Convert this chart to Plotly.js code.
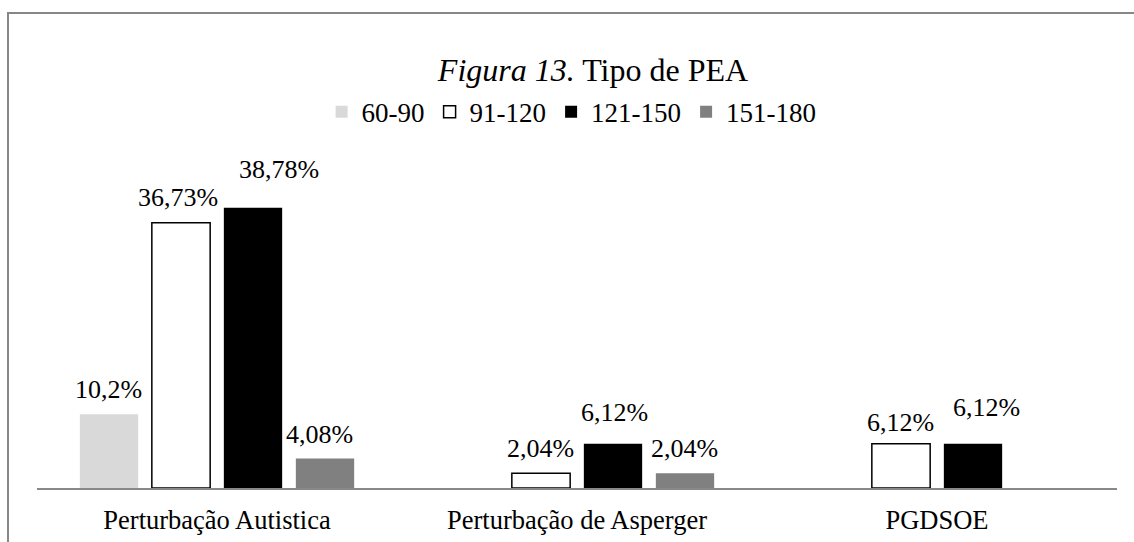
<!DOCTYPE html>
<html>
<head>
<meta charset="utf-8">
<script src="https://cdn.plot.ly/plotly-3.0.1.min.js"></script>
<style>
html, body { margin: 0; padding: 0; width: 1134px; height: 542px; overflow: hidden; background: #fff; }
#frame { position: absolute; left: 7px; top: 12px; width: 1200px; height: 600px;
  border-left: 2px solid #878787; border-top: 2px solid #878787; }
#chart { position: absolute; left: 0; top: 0; width: 1134px; height: 542px; }
</style>
</head>
<body>
<div id="frame"></div>
<div id="chart"></div>
<script>
// ---- data ----
const categories = ["Perturbação Autistica", "Perturbação de Asperger", "PGDSOE"];
const seriesNames = ["60-90", "91-120", "121-150", "151-180"];
const s60_90 = [10.2, null, null];
const s91_120 = [36.73, 2.04, 6.12];
const s121_150 = [38.78, 6.12, 6.12];
const s151_180 = [4.08, 2.04, null];
const seriesValues = [s60_90, s91_120, s121_150, s151_180];

// ---- styles ----
const fills = ["#d9d9d9", "#ffffff", "#000000", "#808080"];
const lines = ["#d9d9d9", "#000000", "#000000", "#808080"];
const FONT = "Liberation Serif";
// label nudges (px) per series, per category, relative to bar centre / top
const labelDX = [[-1, 0, 0], [-3, -1, -1], [26, 1, 13], [-6, -1, 0]];
const labelDY = [[25, 0, 0], [25, 25, 21], [38, 31, 36], [24, 25, 0]];

const traces = seriesNames.map((n, i) => ({
  type: "bar",
  name: n,
  x: categories,
  y: seriesValues[i],
  marker: { color: fills[i], line: { color: lines[i], width: i === 1 ? 1.5 : 0 } },
  hoverinfo: "none"
}));

const margin = { l: 37, r: 17, t: 199, b: 54 };
const bargap = 0.2, bargroupgap = 0.19;
const plotW = 1134 - margin.l - margin.r;
const slot = (plotW / categories.length) * (1 - bargap) / seriesNames.length;

const fmt = v => String(v).replace(".", ",") + "%";
const annotations = [];
seriesValues.forEach((vals, i) => {
  vals.forEach((v, j) => {
    if (v === null) return;
    annotations.push({
      x: categories[j], y: v, xref: "x", yref: "y",
      text: fmt(v), showarrow: false,
      xshift: (i - (seriesNames.length - 1) / 2) * slot + labelDX[i][j],
      yanchor: "middle", yshift: labelDY[i][j],
      font: { family: FONT, size: 26, color: "#000" }
    });
  });
});

const layout = {
  width: 1134, height: 542,
  margin: margin,
  font: { family: FONT, color: "#000" },
  paper_bgcolor: "rgba(0,0,0,0)",
  plot_bgcolor: "rgba(0,0,0,0)",
  barmode: "group",
  bargap: bargap, bargroupgap: bargroupgap,
  title: {
    text: "<i>Figura 13.</i> Tipo de PEA",
    font: { family: FONT, size: 32, color: "#000" },
    x: 593 / 1134, xref: "container", xanchor: "center",
    y: 1 - 70 / 542, yref: "container", yanchor: "middle"
  },
  showlegend: true,
  legend: {
    orientation: "h", x: 0.495, xanchor: "center", y: 1.30, yanchor: "middle",
    font: { family: FONT, size: 27, color: "#000" },
    traceorder: "normal", itemclick: false, itemdoubleclick: false
  },
  xaxis: {
    type: "category",
    showline: true, linecolor: "#898989", linewidth: 2,
    ticks: "", showgrid: false, zeroline: false,
    tickfont: { family: FONT, size: 26.5, color: "#000" },
    ticklabelstandoff: 7
  },
  yaxis: {
    range: [0, 40], visible: false, showgrid: false, zeroline: false
  },
  annotations: annotations
};

Plotly.newPlot("chart", traces, layout, { displayModeBar: false, staticPlot: true });
</script>
</body>
</html>
